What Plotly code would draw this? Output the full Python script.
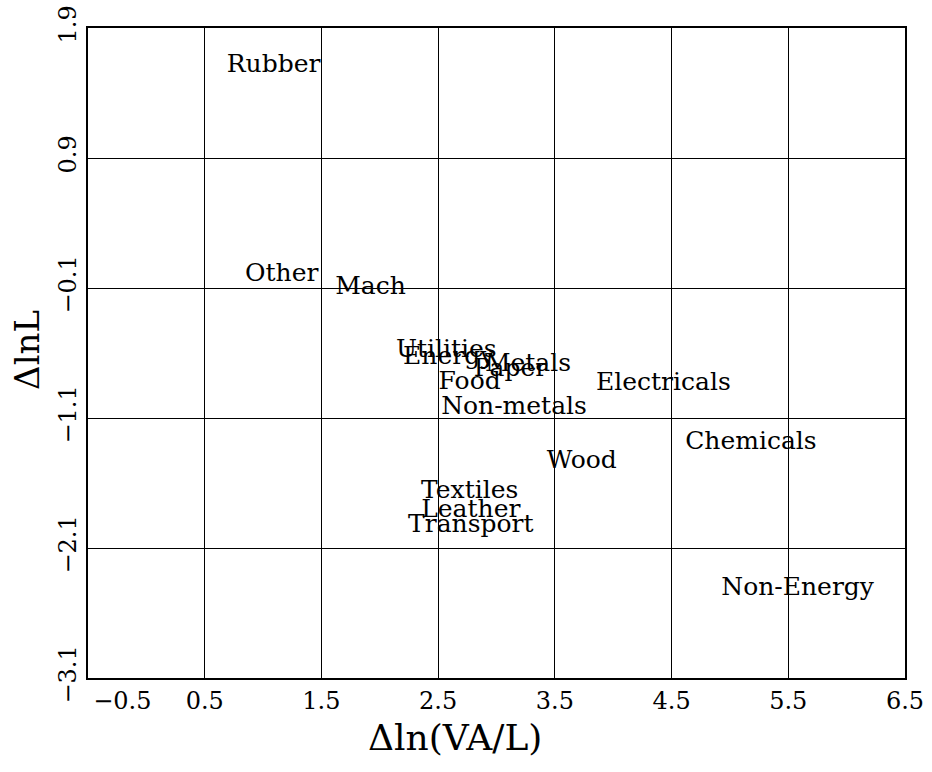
import plotly.graph_objects as go

# Sector growth decomposition: change in log value added per worker vs change in log employment
sectors = ["Rubber", "Other", "Mach", "Utilities", "Energy", "Metals", "Paper",
           "Food", "Non-metals", "Electricals", "Chemicals", "Wood", "Textiles",
           "Leather", "Transport", "Non-Energy"]
d_ln_va_l = [1.09, 1.16, 1.92, 2.57, 2.59, 3.27, 3.12,
             2.77, 3.15, 4.43, 5.18, 3.73, 2.77,
             2.78, 2.78, 5.58]
d_ln_l = [1.61, 0.00, -0.10, -0.58, -0.64, -0.69, -0.73,
          -0.83, -1.02, -0.84, -1.29, -1.44, -1.67,
          -1.81, -1.93, -2.41]

x_ticks = [-0.5, 0.5, 1.5, 2.5, 3.5, 4.5, 5.5, 6.5]
x_ticktext = ["\u00a0" * 9 + "\u22120.5", "0.5", "1.5", "2.5", "3.5", "4.5", "5.5", "6.5"]
y_ticks = [-3.1, -2.1, -1.1, -0.1, 0.9, 1.9]
y_ticktext = ["\u22123.1", "\u22122.1", "\u22121.1", "\u22120.1", "0.9", "1.9"]

FONT = "DejaVu Serif, Liberation Serif, serif"

fig = go.Figure(go.Scatter(
    x=d_ln_va_l, y=d_ln_l, text=sectors, mode="text",
    textposition="middle center",
    textfont=dict(family=FONT, size=25, color="black"),
    hoverinfo="skip", showlegend=False,
))

axis_common = dict(
    showgrid=True, gridcolor="black", gridwidth=1,
    zeroline=False, showline=True, linecolor="black", linewidth=2,
    mirror=True, ticks="", automargin=False,
    tickfont=dict(family=FONT, size=24, color="black"),
)

fig.update_xaxes(range=[-0.5, 6.5], tickvals=x_ticks, ticktext=x_ticktext, **axis_common)
fig.update_yaxes(range=[-3.1, 1.9], tickvals=y_ticks, ticktext=y_ticktext,
                 tickangle=-90, **axis_common)

fig.update_layout(
    width=932, height=772,
    margin=dict(l=88, r=27, t=28, b=94, autoexpand=False),
    plot_bgcolor="white", paper_bgcolor="white",
    annotations=[
        dict(text="\u0394ln(VA/L)", xref="paper", yref="paper", x=0.449, y=-0.092,
             xanchor="center", yanchor="middle", showarrow=False,
             font=dict(family=FONT, size=36, color="black")),
        dict(text="\u0394lnL", xref="paper", yref="paper", x=-0.0745, y=0.505,
             xanchor="center", yanchor="middle", showarrow=False, textangle=-90,
             font=dict(family=FONT, size=34, color="black")),
    ],
)

fig.write_html("out.html")
